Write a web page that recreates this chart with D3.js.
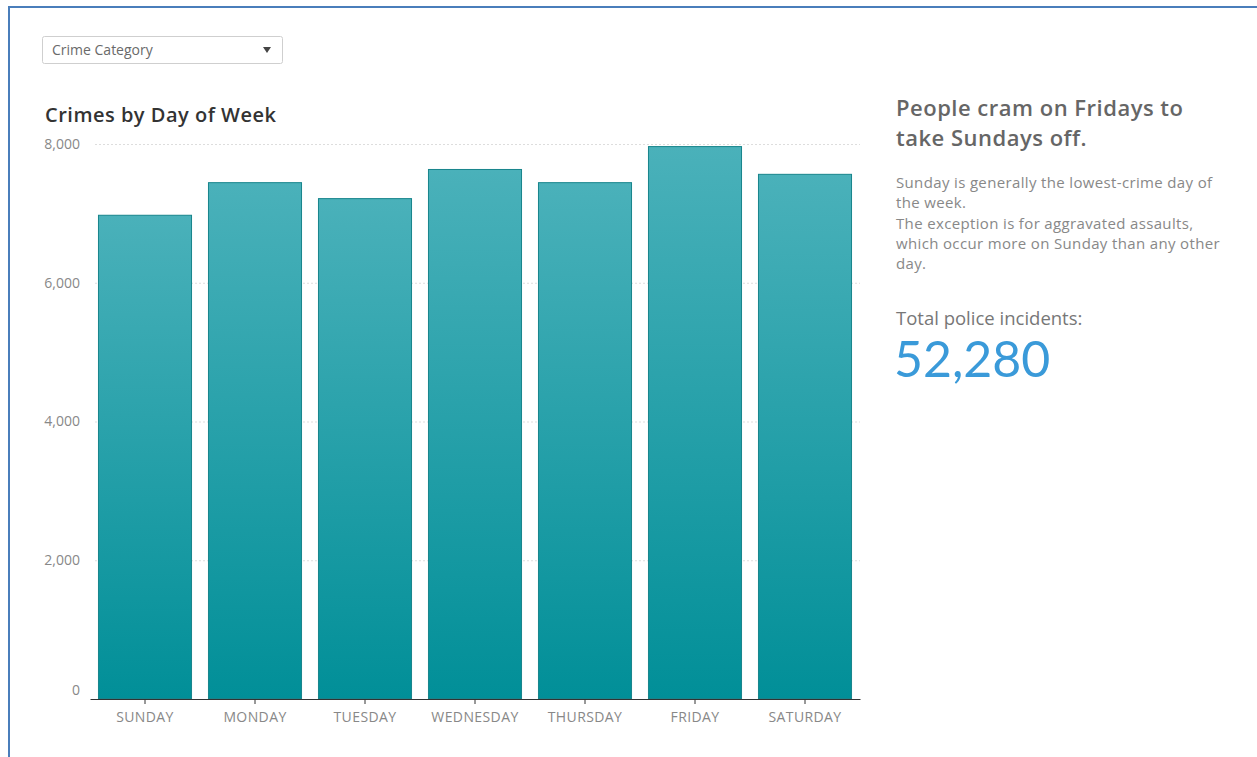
<!DOCTYPE html>
<html>
<head>
<meta charset="utf-8">
<script src="https://cdn.jsdelivr.net/npm/d3@7"></script>
<style>
  body { margin: 0; background: #fff; }
  svg { display: block; font-family: "Open Sans", Lato, sans-serif; }
</style>
</head>
<body>
<svg width="1257" height="757"></svg>
<script>
// data
const days = ["SUNDAY", "MONDAY", "TUESDAY", "WEDNESDAY", "THURSDAY", "FRIDAY", "SATURDAY"];
const crimes = [6980, 7450, 7220, 7640, 7450, 7970, 7570];
const yTicks = [0, 2000, 4000, 6000, 8000];

const data = days.map((d, i) => ({ name: d, value: crimes[i] }));
const total = d3.sum(crimes);

const svg = d3.select("svg");

// outer frame
svg.append("rect").attr("x", 9).attr("y", 7).attr("width", 1260).attr("height", 760)
    .attr("fill", "none").attr("stroke", "#4a7ebb").attr("stroke-width", 2);

// dropdown
const dd = svg.append("g").attr("transform", "translate(42,36)");
dd.append("rect").attr("x", 0.5).attr("y", 0.5).attr("width", 240).attr("height", 27)
    .attr("fill", "#fff").attr("stroke", "#cfcfcf").attr("rx", 2);
dd.append("text").attr("x", 10).attr("y", 19).attr("font-size", 14).attr("fill", "#6a6a6a")
    .text("Crime Category");
dd.append("path").attr("d", "M221,11 L229,11 L225,17 Z").attr("fill", "#444");

// chart title
svg.append("text").attr("x", 45).attr("y", 122).attr("font-size", 20).attr("font-weight", 600)
    .attr("letter-spacing", 0.5).attr("fill", "#333").text("Crimes by Day of Week");

const x = d3.scaleBand().domain(days).range([90, 860]).paddingInner(0.145).paddingOuter(0.0725);
const y = d3.scaleLinear().domain([0, 8000]).range([699, 144]);

// gradient
const grad = svg.append("defs").append("linearGradient").attr("id", "barGrad")
    .attr("x1", 0).attr("y1", 0).attr("x2", 0).attr("y2", 1);
grad.append("stop").attr("offset", "0%").attr("stop-color", "#4ab1ba");
grad.append("stop").attr("offset", "100%").attr("stop-color", "#018f98");

// gridlines
svg.append("g").selectAll("line").data(yTicks.filter(t => t > 0)).join("line")
    .attr("x1", 95).attr("x2", 860)
    .attr("y1", d => y(d) + 0.5).attr("y2", d => y(d) + 0.5)
    .attr("stroke", "#ddd").attr("stroke-dasharray", "2,2");

// y labels
const yAxis = svg.append("g").attr("transform", "translate(90,0)")
    .call(d3.axisLeft(y).tickValues(yTicks).tickSize(0).tickPadding(10).tickFormat(d3.format(",")));
yAxis.select(".domain").remove();
yAxis.selectAll("text").attr("font-size", 14).attr("fill", "#888").attr("font-family", "Open Sans, sans-serif")
    .attr("dy", d => d === 0 ? "-0.3em" : "0.32em");

// bars
svg.append("g").selectAll("rect").data(data).join("rect")
    .attr("x", d => x(d.name) + 0.5)
    .attr("y", d => y(d.value) + 0.5)
    .attr("width", x.bandwidth() - 1)
    .attr("height", d => y(0) - y(d.value) - 1)
    .attr("fill", "url(#barGrad)")
    .attr("stroke", "#17858c").attr("stroke-width", 1);

// x axis
const xAxis = svg.append("g").attr("transform", "translate(0,699)")
    .call(d3.axisBottom(x).tickSize(5).tickPadding(8).tickSizeOuter(0));
xAxis.select(".domain").attr("stroke", "#333");
xAxis.selectAll(".tick line").attr("stroke", "#333");
xAxis.selectAll("text").attr("font-size", 14).attr("letter-spacing", 0.4).attr("fill", "#888")
    .attr("font-family", "Open Sans, sans-serif");

// right panel
const head = svg.append("text").attr("font-size", 22).attr("font-weight", 600)
    .attr("letter-spacing", 0.5).attr("fill", "#666");
head.append("tspan").attr("x", 896).attr("y", 116).text("People cram on Fridays to");
head.append("tspan").attr("x", 896).attr("y", 146).text("take Sundays off.");

const body = ["Sunday is generally the lowest-crime day of", "the week.",
    "The exception is for aggravated assaults,", "which occur more on Sunday than any other", "day."];
svg.append("g").selectAll("text").data(body).join("text")
    .attr("x", 896).attr("y", (d, i) => 188 + i * 20.3)
    .attr("font-size", 15).attr("letter-spacing", 0.35).attr("fill", "#888").text(d => d);

svg.append("text").attr("x", 896).attr("y", 325).attr("font-size", 18.5).attr("fill", "#777")
    .text("Total police incidents:");
svg.append("text").attr("x", 894).attr("y", 377).attr("font-size", 50).attr("fill", "#3a9ad9")
    .attr("font-family", "Lato, sans-serif")
    .text(d3.format(",")(total));
</script>
</body>
</html>
